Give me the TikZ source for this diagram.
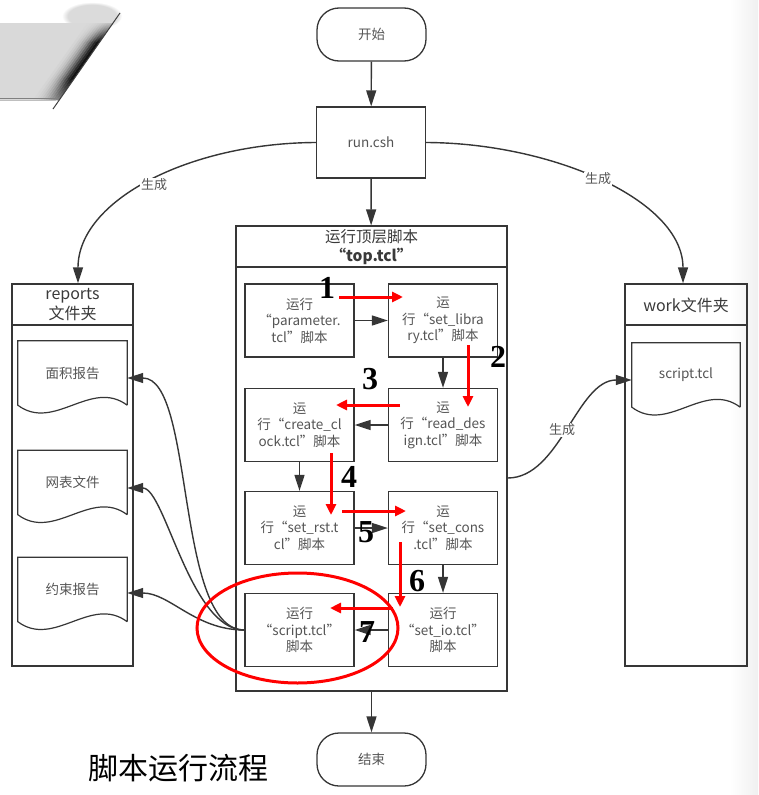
\documentclass[tikz,border=0pt]{standalone}
\usepackage{fontspec}
\setmainfont{Noto Sans CJK SC}
\newfontfamily\numfont{Liberation Serif}
\usetikzlibrary{arrows.meta,calc,fadings}
\definecolor{lc}{HTML}{363636}
\definecolor{tc}{HTML}{555555}
\definecolor{hc}{HTML}{3A3A3A}
\tikzset{
  ln/.style={draw=lc, line width=1.3pt},
  box/.style={ln, fill=white, minimum width=109pt, minimum height=73pt, inner sep=0pt, align=center, text=tc, font=\fontsize{13.5}{16.5}\selectfont},
  term/.style={ln, fill=white, rounded corners=22pt, minimum width=109pt, minimum height=53pt, inner sep=0pt, text=tc, font=\fontsize{13.5}{15}\selectfont},
  cont/.style={ln, inner sep=0pt},
  doc/.style={minimum width=109pt, minimum height=64pt, inner sep=0pt, text=tc, font=\fontsize{13.5}{15}\selectfont},
  hdr/.style={align=center, text=hc, inner sep=0pt},
  arr/.style={draw=lc, line width=1.4pt, -{Triangle[length=16pt,width=10pt]}},
  redarr/.style={draw=red, line width=3pt, -{Triangle[length=11pt,width=10pt]}},
  num/.style={font=\numfont\bfseries\fontsize{32}{32}\selectfont, inner sep=0pt, text=black},
  lab/.style={fill=white, inner sep=1pt, text=tc, font=\fontsize{13}{14}\selectfont},
}
\begin{document}
\begin{tikzpicture}[x=1pt,y=-1pt]
\useasboundingbox (0,0) rectangle (758,795);
\fill[white] (0,0) rectangle (758,795);
\shade[left color=white, right color=black!6] (730,0) rectangle (758,795);

% top-left decoration
\fill[black!14, path fading=circle with fuzzy edge 20 percent] (92,16) ellipse [x radius=30, y radius=14];
\begin{scope}
  \clip (0,23) -- (113,23) -- (59,100) -- (0,100) -- cycle;
  \fill[black!15] (0,0) rectangle (130,110);
  \foreach \d/\c in {0/97,2/92,4/84,6/72,8/60,10/48,12/38,14/30,16/24,18/20,20/17} {
    \draw[black!\c, line width=2.3pt]
      ($(59,100)+(-0.817*\d,-0.577*\d)+(-86.6,122.6)$) --
      ($(59,100)+(-0.817*\d,-0.577*\d)+(86.6,-122.6)$);
  }
  \fill[black!15, path fading=south] (40,20) rectangle (125,42);
  \fill[black!15, opacity=0.6, path fading=north] (30,78) rectangle (80,100);
\end{scope}
\draw[black!75, line width=1pt] (53,109) -- (120,13);
\draw[black!50, line width=1.4pt] (0,98.5) -- (58,98.5);
\draw[black!25, line width=1pt] (0,100.5) -- (56,100.5);

% main flow
\node[term] (start) at (371.5,34.5) {开始};
\node[box, minimum height=71pt] (run) at (371,142.5) {run.csh};
\node[cont, minimum width=271pt, minimum height=465pt] (top) at (371.5,458.5) {};
\draw[ln] (top.west |- 0,267) -- (top.east |- 0,267);
\node[hdr, font=\fontsize{15.5}{19}\selectfont] (toph) at (371.5,247) {运行顶层脚本\\{\bfseries “top.tcl”}};
\node[term] (end) at (371.5,759.5) {结束};

\draw[arr] (start) -- (run);
\draw[arr] (run) -- (top);
\draw[arr] (top) -- (end);

% inner boxes
\node[box] (param) at (299.5,320.5) {运行\\“parameter.\\tcl”脚本};
\node[box] (setlib) at (443,320.5) {运\\行“set\_libra\\ry.tcl”脚本};
\node[box] (readd) at (443,425) {运\\行“read\_des\\ign.tcl”脚本};
\node[box] (cclk) at (299.5,425) {运\\行“create\_cl\\ock.tcl”脚本};
\node[box] (rst) at (299.5,528) {运\\行“set\_rst.t\\cl”脚本};
\node[box] (cons) at (443,528) {运\\行“set\_cons\\.tcl”脚本};
\node[box] (scr) at (299.5,630) {运行\\“script.tcl”\\脚本};
\node[box] (sio) at (443,630) {运行\\“set\_io.tcl”\\脚本};

\draw[arr] (param) -- (setlib);
\draw[arr] (setlib) -- (readd);
\draw[arr] (readd) -- (cclk);
\draw[arr] (cclk) -- (rst);
\draw[arr] (rst) -- (cons);
\draw[arr] (cons) -- (sio);
\draw[arr] (sio) -- (scr);

% reports folder
\node[cont, minimum width=121pt, minimum height=382pt] (rep) at (72.5,475) {};
\draw[ln] (rep.west |- 0,325) -- (rep.east |- 0,325);
\node[hdr, font=\fontsize{16}{20}\selectfont] (reph) at (72.5,305) {reports\\文件夹};
\node[doc] (d1) at (72.5,373) {面积报告};
\node[doc] (d2) at (72.5,482.5) {网表文件};
\node[doc] (d3) at (72.5,589.5) {约束报告};
\foreach \n in {d1,d2,d3} {
  \draw[ln, line width=1.2pt] (\n.south east) -- (\n.north east) -- (\n.north west) -- (\n.south west)
    .. controls +(36.3,27) and +(-36.3,-27) .. (\n.south east);
}

% work folder
\node[cont, minimum width=122pt, minimum height=382pt] (work) at (686,475) {};
\draw[ln] (work.west |- 0,325) -- (work.east |- 0,325);
\node[hdr, font=\fontsize{16}{20}\selectfont] (workh) at (686,305) {work文件夹};
\node[doc, minimum width=108pt] (wd) at (686,375) {script.tcl};
\draw[ln, line width=1.2pt] (wd.south east) -- (wd.north east) -- (wd.north west) -- (wd.south west)
    .. controls +(36,27) and +(-36,-27) .. (wd.south east);

% generation curves
\draw[arr] (run.west) .. controls (190,143) and (78,200) .. ([xshift=5.5pt]rep.north);
\draw[arr] (run.east) .. controls (552,143) and (683,200) .. ([xshift=-3pt]work.north);
\draw[arr] ([yshift=-19.5pt]top.east) .. controls (560,478) and (577,380) .. ([yshift=-5pt]wd.west);
\node[lab] (g1) at (154,185) {生成};
\node[lab] (g2) at (598,179) {生成};
\node[lab] (g3) at (562,430) {生成};

\draw[arr] (scr.west) .. controls (175,630) and (195,378) .. ([yshift=-5pt]d1.east);
\draw[arr] (scr.west) .. controls (190,630) and (165,488) .. ([yshift=-5.5pt]d2.east);
\draw[arr] (scr.west) .. controls (195,630) and (170,593) .. ([yshift=-3.5pt]d3.east);

% step numbers
\node[num] (n1) at (327,288) {1};
\node[num] (n2) at (498,357) {2};
\node[num] (n3) at (370,379) {3};
\node[num] (n4) at (349,477) {4};
\node[num] (n5) at (366,532) {5};
\node[num] (n6) at (417,581) {6};
\node[num] (n7) at (367,632) {7};

% red annotation arrows
\coordinate (r1a) at (339,297); \coordinate (r1b) at (403,297);
\coordinate (r2a) at (468,345); \coordinate (r2b) at (468,407);
\coordinate (r3a) at (400,405); \coordinate (r3b) at (336,405);
\coordinate (r4a) at (331,453); \coordinate (r4b) at (331,515);
\coordinate (r5a) at (342,511); \coordinate (r5b) at (406,511);
\coordinate (r6a) at (400,542); \coordinate (r6b) at (400,607);
\coordinate (r7a) at (393,608); \coordinate (r7b) at (330,608);
\foreach \i in {1,...,7} { \draw[redarr] (r\i a) -- (r\i b); }

\draw[red, line width=3pt] (297.5,628) ellipse [x radius=100.5, y radius=55];

% title
\node[font=\fontsize{30}{32}\selectfont, text=black, inner sep=0pt] (title) at (178,768) {脚本运行流程};
\end{tikzpicture}
\end{document}
